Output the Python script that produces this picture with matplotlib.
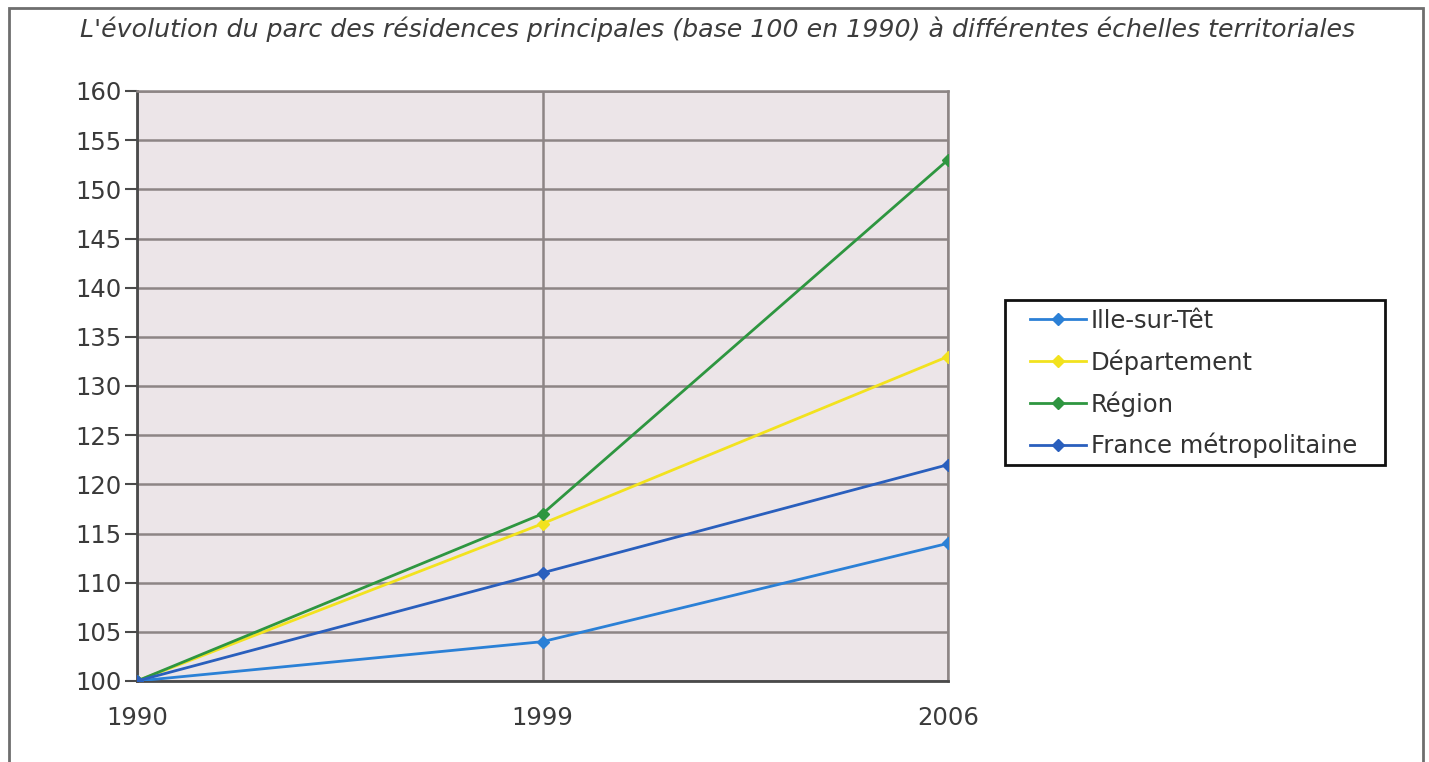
import matplotlib.pyplot as plt
from matplotlib.patches import Rectangle

# housing stock index, base 100 in 1990
years = ['1990', '1999', '2006']
ille_sur_tet = [100, 104, 114]
departement = [100, 116, 133]
region = [100, 117, 153]
france = [100, 111, 122]

series = [
    ('Ille-sur-Têt', ille_sur_tet, '#2b80d6'),
    ('Département', departement, '#f2e21e'),
    ('Région', region, '#2e9640'),
    ('France métropolitaine', france, '#2a5fbd'),
]

W, H = 1429, 762
fig = plt.figure(figsize=(W / 100, H / 100), dpi=100)
fig.patch.set_facecolor('white')

# outer border around the whole chart
fig.patches.append(Rectangle((9 / W, -0.05), 1414 / W, 1.05 - 8 / H,
                             transform=fig.transFigure, fill=False,
                             edgecolor='#6e6e6e', linewidth=2))

fig.text(0.502, 0.962,
         "L'évolution du parc des résidences principales (base 100 en 1990) à différentes échelles territoriales",
         ha='center', va='center', fontsize=18.2, style='italic', color='#3c3c3c')

ax = fig.add_axes([137 / W, 1 - 681 / H, (948 - 137) / W, (681 - 91) / H])
ax.set_facecolor('#ece5e8')

x = list(range(len(years)))
for name, vals, col in series:
    ax.plot(x, vals, color=col, linewidth=2, marker='D', markersize=6,
            label=name, zorder=3)

ax.set_xlim(0, 2)
ax.set_ylim(100, 160)
ax.set_yticks(range(100, 161, 5))
ax.set_xticks(x)
ax.set_xticklabels(years)

grid_col = '#8d8585'
ax.grid(True, color=grid_col, linewidth=1.8, zorder=1)
ax.set_axisbelow(True)
for side in ['top', 'right']:
    ax.spines[side].set_color(grid_col)
    ax.spines[side].set_linewidth(1.8)
for side in ['left', 'bottom']:
    ax.spines[side].set_color('#4a4a4a')
    ax.spines[side].set_linewidth(2)

ax.tick_params(axis='y', length=9, width=1.5, color='#4a4a4a', pad=2,
               labelsize=17.5, labelcolor='#3a3a3a')
ax.tick_params(axis='x', length=0, pad=18, labelsize=17.5, labelcolor='#3a3a3a')

# legend entries without frame, box drawn separately for wider padding
leg = ax.legend(loc='upper left', bbox_to_anchor=(1.1011, 0.6305),
                fontsize=17.5, frameon=False,
                handlelength=2.3, handletextpad=0.2, labelspacing=0.67,
                borderpad=0, borderaxespad=0)
for t in leg.get_texts():
    t.set_color('#333333')
fig.patches.append(Rectangle((1005 / W, 1 - 465 / H), 380 / W, 165 / H,
                             transform=fig.transFigure, fill=False,
                             edgecolor='#111111', linewidth=2))

fig.savefig('out.png', dpi=100)
